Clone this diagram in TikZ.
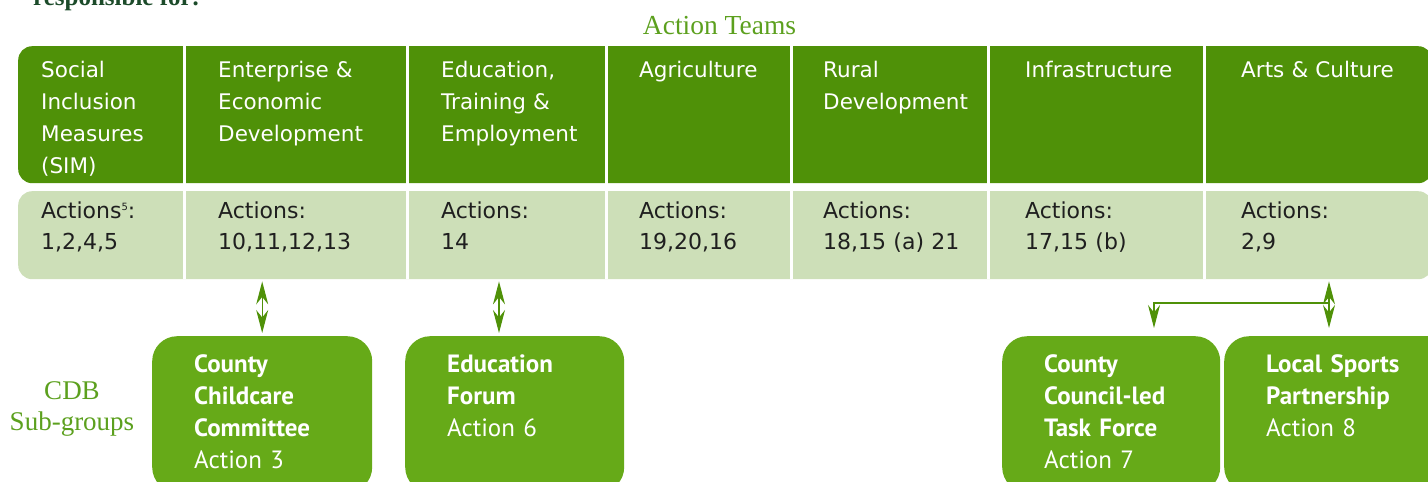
\documentclass[tikz,border=0pt]{standalone}
\usepackage{fontspec}
\newfontfamily\cellfont{DejaVu Sans}
\newfontfamily\subfont{PT Sans}
\newfontfamily\headfont{Liberation Serif}
\usetikzlibrary{arrows.meta}
\definecolor{teamgreen}{HTML}{4F9108}
\definecolor{actgreen}{HTML}{CDDFB8}
\definecolor{subgreen}{HTML}{66AA18}
\definecolor{titlegreen}{HTML}{5CA01E}
\definecolor{darkgreen}{HTML}{1C4B2A}

\begin{document}
\begin{tikzpicture}[x=1pt,y=-1pt,
    rowbox/.style={anchor=north west, minimum width=1414pt, inner sep=0pt, rounded corners=14pt},
    teamtxt/.style={anchor=base west, inner sep=0pt, text width=185pt, align=left, text=white,
        font=\cellfont\fontsize{21.5}{32}\selectfont},
    acttxt/.style={anchor=base west, inner sep=0pt, text width=185pt, align=left, text=black!88,
        font=\cellfont\fontsize{22}{31}\selectfont},
    subbox/.style={anchor=north west, fill=subgreen, rounded corners=25pt, inner xsep=42pt, inner ysep=0pt,
        text height=36pt, text depth=120pt, align=left, text=white, font=\subfont\fontsize{25}{32}\selectfont},
    link/.style={draw=teamgreen, line width=1.2pt,
        arrows={Stealth[length=23pt,width=12pt]-Stealth[length=23pt,width=12pt]}},
    ]
    \useasboundingbox (0,0) rectangle (1428,482);

    \node[anchor=base west, inner sep=0pt, text=darkgreen, font=\headfont\bfseries\fontsize{25}{28}\selectfont]
        (resp) at (33,5) {responsible for:};
    \node[anchor=base, inner sep=0pt, text=titlegreen, font=\headfont\fontsize{27.5}{30}\selectfont]
        (teams) at (719.5,34) {Action Teams};

    \node[rowbox, fill=teamgreen, minimum height=137pt] (teamrow) at (18,46) {};
    \node[rowbox, fill=actgreen, minimum height=88pt] (actrow) at (18,191) {};
    \foreach \x in {184.5,407.5,606.5,791.5,988.5,1204.5}
        \draw[white, line width=3pt] (\x,46) -- (\x,279);

    \node[teamtxt] (sim) at (41,77) {Social\\Inclusion\\Measures\\(SIM)};
    \node[teamtxt] (ent) at (218,77) {Enterprise \&\\Economic\\Development};
    \node[teamtxt] (edu) at (441,77) {Education,\\Training \&\\Employment};
    \node[teamtxt] (agr) at (639,77) {Agriculture};
    \node[teamtxt] (rur) at (823,77) {Rural\\Development};
    \node[teamtxt] (inf) at (1025,77) {Infrastructure};
    \node[teamtxt] (art) at (1241,77) {Arts \& Culture};

    \node[acttxt] (simAct) at (41,218) {Actions\raisebox{8pt}{\fontsize{10}{10}\selectfont 5}:\\1,2,4,5};
    \node[acttxt] (entAct) at (218,218) {Actions:\\10,11,12,13};
    \node[acttxt] (eduAct) at (441,218) {Actions:\\14};
    \node[acttxt] (agrAct) at (639,218) {Actions:\\19,20,16};
    \node[acttxt] (rurAct) at (823,218) {Actions:\\18,15 (a) 21};
    \node[acttxt] (infAct) at (1025,218) {Actions:\\17,15 (b)};
    \node[acttxt] (artAct) at (1241,218) {Actions:\\2,9};

    \node[anchor=base, inner sep=0pt, text width=140pt, align=center, text=titlegreen,
        font=\headfont\fontsize{27}{31}\selectfont] (cdb) at (72,399) {CDB\\Sub-groups};

    \node[subbox, text width=136pt] (childcare) at (152,336) {\bfseries County\\Childcare\\Committee\\\mdseries Action 3};
    \node[subbox, text width=135pt] (forum) at (405,336) {\bfseries Education\\Forum\\\mdseries Action 6};
    \node[subbox, text width=134pt] (taskforce) at (1002,336) {\bfseries County\\Council-led\\Task Force\\\mdseries Action 7};
    \node[subbox, text width=166pt] (sports) at (1224,336) {\bfseries Local Sports\\Partnership\\\mdseries Action 8};

    \draw[link, shorten <=3pt, shorten >=2pt] (childcare.north) -- (childcare.north |- actrow.south);
    \draw[link, shorten <=3pt, shorten >=2pt] ([xshift=94pt]forum.north west) -- ([xshift=94pt]forum.north west |- actrow.south);
    \draw[link, shorten <=8pt, shorten >=2pt] ([xshift=105pt]sports.north west) -- ([xshift=105pt]sports.north west |- actrow.south);
    \coordinate (split) at (1329,303);
    \draw[link, arrows={-Stealth[length=23pt,width=12pt]}, shorten >=8pt] (split) -| ([xshift=152pt]taskforce.north west);
\end{tikzpicture}
\end{document}
